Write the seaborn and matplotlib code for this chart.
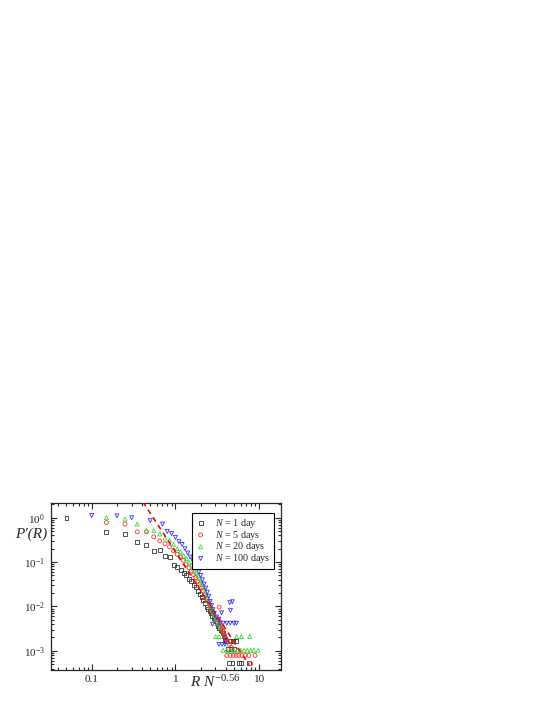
import numpy as np
import pandas as pd
import seaborn as sns
import matplotlib.pyplot as plt

# N = 1 day
n1_x = [0.05, 0.15, 0.25, 0.35, 0.45, 0.55, 0.65, 0.75, 0.85, 0.95, 1.05, 1.15, 1.25, 1.35, 1.45,
        1.55, 1.65, 1.75, 1.85, 1.95, 2.05, 2.15, 2.25, 2.35, 2.45, 2.55, 2.65, 2.75, 2.85, 2.95,
        3.05, 3.15, 3.25, 3.35, 3.45, 3.55, 3.65, 3.75, 3.85, 3.95, 4.05, 4.45, 4.85, 5.3,
        4.25, 4.65, 5.05, 4.35, 4.8, 5.75, 6.1, 7.6]
n1_y = [1.0, 0.48, 0.42, 0.28, 0.24, 0.18, 0.19, 0.14, 0.13, 0.085, 0.078, 0.065, 0.056, 0.05, 0.042,
        0.037, 0.031, 0.027, 0.022, 0.019, 0.016, 0.014, 0.012, 0.0099, 0.0086, 0.0078, 0.007, 0.0061, 0.0055, 0.0052,
        0.0046, 0.0042, 0.0036, 0.0033, 0.003, 0.0028, 0.0025, 0.0022, 0.002, 0.0018, 0.0017, 0.0017, 0.0017, 0.0017,
        0.0011, 0.0011, 0.0011, 0.00052, 0.00052, 0.00052, 0.00052, 0.00052]

# N = 5 days
n5_x = [0.15, 0.25, 0.35, 0.45, 0.55, 0.65, 0.75, 0.85, 0.95, 1.05, 1.15, 1.25, 1.35, 1.45, 1.55,
        1.65, 1.75, 1.85, 1.95, 2.05, 2.15, 2.25, 2.35, 2.45, 2.55, 2.65, 2.75, 2.85, 2.95, 3.05,
        3.15, 3.32, 3.35, 3.45, 3.55, 3.65, 3.75, 3.85, 4.0, 4.2, 4.4, 4.6,
        4.1, 4.5, 4.9, 5.3, 5.7, 6.2, 6.8, 7.5, 8.9, 7.9]
n5_y = [0.78, 0.72, 0.48, 0.48, 0.37, 0.3, 0.26, 0.22, 0.18, 0.15, 0.13, 0.11, 0.09, 0.075, 0.063,
        0.052, 0.045, 0.037, 0.032, 0.026, 0.022, 0.018, 0.015, 0.013, 0.011, 0.0088, 0.0076, 0.0068, 0.0058, 0.005,
        0.0045, 0.0097, 0.004, 0.0035, 0.0031, 0.0028, 0.0025, 0.0022, 0.0019, 0.0016, 0.0014, 0.0012,
        0.00079, 0.00079, 0.00079, 0.00079, 0.00079, 0.00079, 0.00079, 0.00079, 0.00079, 0.00052]

# N = 20 days
n20_x = [0.15, 0.25, 0.35, 0.45, 0.55, 0.65, 0.75, 0.85, 0.95, 1.05, 1.15, 1.25, 1.35, 1.45, 1.55,
         1.65, 1.75, 1.85, 1.95, 2.05, 2.15, 2.25, 2.35, 2.45, 2.55, 2.65, 2.75, 2.85, 2.95, 3.05,
         3.2, 3.4, 3.03, 3.32, 5.35, 6.13, 7.7,
         3.7, 4.1, 4.5, 5.0, 5.5, 6.0, 6.6, 7.2, 7.9, 8.6, 9.7]
n20_y = [1.0, 0.93, 0.72, 0.52, 0.51, 0.43, 0.35, 0.31, 0.25, 0.2, 0.17, 0.14, 0.12, 0.1, 0.085,
         0.07, 0.058, 0.05, 0.042, 0.035, 0.028, 0.022, 0.018, 0.015, 0.012, 0.01, 0.0085, 0.0072, 0.0062, 0.0052,
         0.0042, 0.0034, 0.0021, 0.0021, 0.0021, 0.0021, 0.0021,
         0.00103, 0.00103, 0.00103, 0.00103, 0.00103, 0.00103, 0.00103, 0.00103, 0.00103, 0.00103, 0.00103]

# N = 100 days
n100_x = [0.1, 0.2, 0.3, 0.5, 0.7, 0.8, 0.9, 1.0, 1.1, 1.2, 1.3, 1.4, 1.5, 1.6, 1.7,
          1.8, 1.9, 2.0, 2.1, 2.2, 2.3, 2.4, 2.5, 2.6, 2.7, 2.8, 2.9, 3.1, 3.3,
          2.77, 3.4, 3.7, 4.1, 4.5, 5.0, 5.35, 3.55, 4.53, 4.45, 4.78, 3.3, 3.6, 3.9]
n100_y = [1.12, 1.1, 1.0, 0.86, 0.72, 0.49, 0.44, 0.36, 0.29, 0.25, 0.2, 0.16, 0.13, 0.11, 0.09,
          0.075, 0.06, 0.05, 0.04, 0.032, 0.026, 0.021, 0.017, 0.013, 0.0105, 0.0085, 0.007, 0.0058, 0.0052,
          0.004, 0.0042, 0.0042, 0.0042, 0.0042, 0.0042, 0.0042, 0.0072, 0.0082, 0.0122, 0.0128, 0.0014, 0.0014, 0.0014]

# power-law fit P'(R) ~ A * x^-alpha
fit_A = 0.17
fit_alpha = 2.9
fit_x = np.logspace(np.log10(0.41), np.log10(7.5), 50)
fit_y = fit_A * fit_x ** (-fit_alpha)

sns.set_style('ticks')
plt.rcParams['font.family'] = ['Liberation Serif', 'DejaVu Serif']
plt.rcParams['mathtext.fontset'] = 'custom'
plt.rcParams['mathtext.rm'] = 'Liberation Serif'
plt.rcParams['mathtext.it'] = 'Liberation Serif:italic'

fig = plt.figure(figsize=(5.48, 7.09), dpi=100)
ax = fig.add_axes([0.0925, 0.0557, 0.4203, 0.2353])

series = [
    (n1_x, n1_y, 's', '#333333', r'$N$ = 1 day'),
    (n5_x, n5_y, 'o', '#ff3333', r'$N$ = 5 days'),
    (n20_x, n20_y, '^', '#33dd33', r'$N$ = 20 days'),
    (n100_x, n100_y, 'v', '#3333ff', r'$N$ = 100 days'),
]
for xs, ys, mk, c, lab in series:
    df = pd.DataFrame({'x': xs, 'y': ys})
    sns.scatterplot(data=df, x='x', y='y', marker=mk, s=8, facecolors='none',
                    edgecolor=c, linewidth=0.6, ax=ax, label=lab, zorder=3)

sns.lineplot(x=fit_x, y=fit_y, color='red', linestyle=(0, (3, 2.5)), linewidth=1.2, ax=ax, zorder=4)

ax.set_xscale('log')
ax.set_yscale('log')
ax.set_xlim(0.0324, 18.2)
ax.set_ylim(3.8e-4, 2.18)
ax.set_xticks([0.1, 1, 10])
ax.set_xticklabels(['0.1', '1', '10'])
ax.tick_params(which='both', direction='in', top=True, right=True, labelsize=8, width=0.8)
ax.tick_params(which='major', length=4, pad=4)
ax.tick_params(which='minor', length=2)
for sp in ax.spines.values():
    sp.set_linewidth(0.9)
ax.set_xlabel('')
ax.set_ylabel('')

ax.text(-0.085, 0.808, "P'(R)", transform=ax.transAxes, fontsize=11, fontstyle='italic',
        ha='center', va='center')
ax.text(0.715, -0.075, r'$R\ N^{\mathrm{-0.56}}$', transform=ax.transAxes, fontsize=11,
        ha='center', va='center')

leg = ax.legend(loc='upper right', bbox_to_anchor=(0.993, 0.97), fontsize=7.3, frameon=True, fancybox=False,
                edgecolor='black', framealpha=1, handlelength=1.0, handletextpad=0.9, borderpad=0.4,
                labelspacing=-0.12, markerscale=1.0)
leg.get_frame().set_linewidth(0.8)

plt.savefig('out.png', dpi=100)
